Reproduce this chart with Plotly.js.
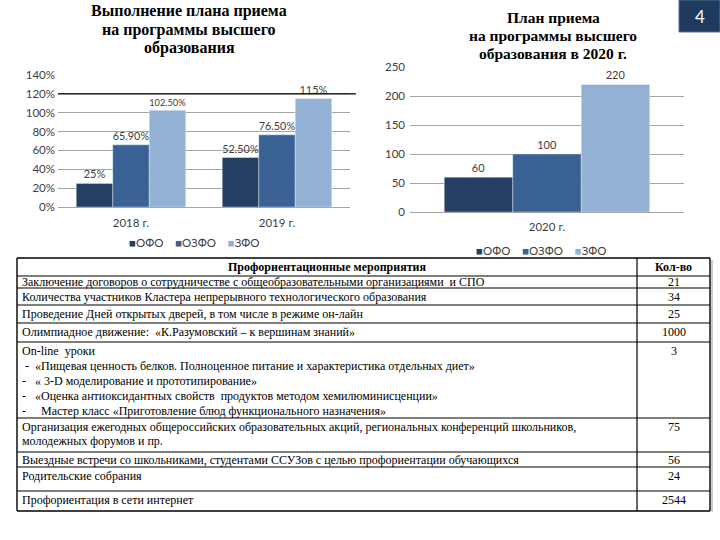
<!DOCTYPE html>
<html><head><meta charset="utf-8">
<script src="https://cdn.plot.ly/plotly-3.0.1.min.js"></script>
<style>html,body{margin:0;padding:0;background:#fff;}#c{width:720px;height:540px;}</style>
</head><body><div id="c"></div>
<script>
// ---------- data ----------
var series = ['ОФО', 'ОЗФО', 'ЗФО'];

var years1 = ['2018 г.', '2019 г.'];
var pctOFO  = [0.25, 0.525];
var pctOZFO = [0.659, 0.765];
var pctZFO  = [1.025, 1.15];
var pctLabelsOFO  = ['25%', '52.50%'];
var pctLabelsOZFO = ['65.90%', '76.50%'];
var pctLabelsZFO  = ['102.50%', '115%'];
var pctTicks = [0, 0.2, 0.4, 0.6, 0.8, 1.0, 1.2, 1.4];
var pctTickText = ['0%', '20%', '40%', '60%', '80%', '100%', '120%', '140%'];

var years2 = ['2020 г.'];
var planOFO = [60];
var planOZFO = [100];
var planZFO = [220];

var title1Lines = ['Выполнение плана приема', 'на программы высшего', 'образования'];
var title2Lines = ['План приема', 'на программы высшего', 'образования в 2020 г.'];

var tableHeader = ['Профориентационные мероприятия', 'Кол-во'];
var activities = [
  'Заключение договоров о сотрудничестве с общеобразовательными организациями\u00a0\u00a0и СПО',
  'Количества участников Кластера непрерывного технологического образования',
  'Проведение Дней открытых дверей, в том числе в режиме он-лайн',
  'Олимпиадное движение:\u00a0\u00a0«К.Разумовский – к вершинам знаний»',
  'On-line\u00a0\u00a0уроки<br>\u00a0-\u00a0\u00a0«Пищевая ценность белков. Полноценное питание и характеристика отдельных диет»<br>-\u00a0\u00a0\u00a0« 3-D моделирование и прототипирование»<br>-\u00a0\u00a0\u00a0«Оценка антиоксидантных свойств\u00a0\u00a0продуктов методом хемилюминисценции»<br>-\u00a0\u00a0\u00a0\u00a0\u00a0Мастер класс «Приготовление блюд функционального назначения»',
  'Организация ежегодных общероссийских образовательных акций, региональных конференций школьников,<br>молодежных форумов и пр.',
  'Выездные встречи со школьниками, студентами ССУЗов с целью профориентации обучающихся',
  'Родительские собрания',
  'Профориентация в сети интернет'
];
var counts = ['21', '34', '25', '1000', '3', '75', '56', '24', '2544'];

// ---------- styles / layout config ----------
var colors = ['#243f62', '#3a6193', '#93b1d5'];
var W = 720, H = 540;
function px(x) { return x / W; }
function py(y) { return 1 - y / H; }

var tickFont = { family: 'Lato, Liberation Sans, sans-serif', size: 11.5, color: '#404040' };
var labelFont = { family: 'Lato, Liberation Sans, sans-serif', size: 11, color: '#404040' };
var legendFont = { family: 'Lato, Liberation Sans, sans-serif', size: 11.5, color: '#404040' };
var title1Font = { family: 'Liberation Serif, serif', size: 16, color: '#000' };
var title2Font = { family: 'Liberation Serif, serif', size: 15.5, color: '#000' };
var cellFont = { family: 'Liberation Serif, serif', size: 12, color: '#000' };

// table geometry (pixels)
var tblLeft = 17, tblRight = 710, tblSplit = 637;
var rowEdges = [258, 276, 288, 305, 323, 342, 418, 452, 467, 491, 511];
var lineStep = 15;

var traces = [];
function addBars(xs, ys, labels, i, xa, ya) {
  traces.push({
    type: 'bar', x: xs, y: ys, name: series[i], showlegend: false,
    text: labels, textposition: 'outside', cliponaxis: false,
    textfont: labelFont,
    marker: { color: colors[i], line: { color: 'rgba(255,255,255,0.35)', width: 1 } },
    xaxis: xa, yaxis: ya, hoverinfo: 'none'
  });
}
addBars(years1, pctOFO, pctLabelsOFO, 0, 'x', 'y');
addBars(years1, pctOZFO, pctLabelsOZFO, 1, 'x', 'y');
addBars(years1, pctZFO, pctLabelsZFO, 2, 'x', 'y');
addBars(years2, planOFO, planOFO.map(String), 0, 'x2', 'y2');
addBars(years2, planOZFO, planOZFO.map(String), 1, 'x2', 'y2');
addBars(years2, planZFO, planZFO.map(String), 2, 'x2', 'y2');

var annotations = [];
var shapes = [];

function legendText() {
  return series.map(function (s, i) {
    return '<span style="color:' + colors[i] + '">■</span>' + s;
  }).join('\u00a0\u00a0\u00a0\u00a0');
}
annotations.push({ xref: 'paper', yref: 'paper', x: px(194), y: py(242), xanchor: 'center', yanchor: 'middle',
  text: legendText(), showarrow: false, font: legendFont, borderpad: 0 });
annotations.push({ xref: 'paper', yref: 'paper', x: px(541), y: py(250), xanchor: 'center', yanchor: 'middle',
  text: legendText(), showarrow: false, font: legendFont, borderpad: 0 });

function titleLines(lines, cx, y0, step, font) {
  lines.forEach(function (t, i) {
    annotations.push({ xref: 'paper', yref: 'paper', x: px(cx), y: py(y0 + i * step), xanchor: 'center', yanchor: 'middle',
      text: '<b>' + t + '</b>', showarrow: false, font: font, borderpad: 0 });
  });
}
titleLines(title1Lines, 189, 11.5, 18.5, title1Font);
titleLines(title2Lines, 553, 17.5, 18, title2Font);

annotations.push({ xref: 'paper', yref: 'paper', x: px(700), y: py(16), xanchor: 'center', yanchor: 'middle',
  text: '4', showarrow: false, font: { family: 'Lato, sans-serif', size: 17, color: '#fff' } });

shapes.push({ type: 'rect', xref: 'paper', yref: 'paper', x0: px(679), x1: px(720), y0: py(32), y1: py(0),
  fillcolor: '#1f3a5f', line: { color: '#5a7394', width: 1 } });
shapes.push({ type: 'line', xref: 'paper', yref: 'y', x0: px(58), x1: px(356), y0: 1.2, y1: 1.2,
  line: { color: '#000', width: 1.3 } });

// ---------- table ----------
function hline(y, w) {
  shapes.push({ type: 'line', xref: 'paper', yref: 'paper', x0: px(tblLeft), x1: px(tblRight), y0: py(y), y1: py(y),
    line: { color: '#000', width: w } });
}
function vline(x, w) {
  shapes.push({ type: 'line', xref: 'paper', yref: 'paper', x0: px(x), x1: px(x),
    y0: py(rowEdges[0]), y1: py(rowEdges[rowEdges.length - 1]), line: { color: '#000', width: w } });
}
rowEdges.forEach(function (y, k) { hline(y, (k === 0 || k === rowEdges.length - 1) ? 1.4 : 1.2); });
vline(tblLeft, 1.4); vline(tblSplit, 1.2); vline(tblRight, 1.4);
shapes.push({ type: 'line', xref: 'paper', yref: 'paper', x0: px(tblRight + 2), x1: px(tblRight + 2),
  y0: py(rowEdges[0] + 2), y1: py(rowEdges[rowEdges.length - 1] + 1), line: { color: '#bbb', width: 1.5 } });

function cellText(txt, rowIdx, col, bold) {
  var top = rowEdges[rowIdx], bot = rowEdges[rowIdx + 1];
  var first = top + Math.min((bot - top) / 2, 8.5);
  txt.split('<br>').forEach(function (line, i) {
    annotations.push({
      xref: 'paper', yref: 'paper',
      x: col === 0 ? px(tblLeft + 5) : px((tblSplit + tblRight) / 2),
      y: py(first + i * lineStep),
      xanchor: col === 0 ? 'left' : 'center', yanchor: 'middle',
      text: bold ? '<b>' + line + '</b>' : line,
      showarrow: false, font: cellFont, borderpad: 0, borderwidth: 0
    });
  });
}
annotations.push({ xref: 'paper', yref: 'paper', x: px((tblLeft + tblSplit) / 2), y: py((rowEdges[0] + rowEdges[1]) / 2),
  xanchor: 'center', yanchor: 'middle', text: '<b>' + tableHeader[0] + '</b>', showarrow: false, font: cellFont, borderpad: 0 });
annotations.push({ xref: 'paper', yref: 'paper', x: px((tblSplit + tblRight) / 2), y: py((rowEdges[0] + rowEdges[1]) / 2),
  xanchor: 'center', yanchor: 'middle', text: '<b>' + tableHeader[1] + '</b>', showarrow: false, font: cellFont, borderpad: 0 });
activities.forEach(function (a, r) {
  cellText(a, r + 1, 0, false);
  cellText(counts[r], r + 1, 1, false);
});

var layout = {
  width: W, height: H,
  margin: { l: 0, r: 0, t: 0, b: 0 },
  paper_bgcolor: '#fff', plot_bgcolor: '#fff',
  showlegend: false,
  barmode: 'group', bargap: 0.25, bargroupgap: 0,
  xaxis: {
    domain: [px(58), px(350)], anchor: 'y', tickfont: tickFont, ticklabelstandoff: 5,
    showline: true, linecolor: '#a6a6a6', ticks: ''
  },
  yaxis: {
    domain: [py(207), py(75)], anchor: 'x', range: [0, 1.4],
    tickvals: pctTicks, ticktext: pctTickText, tickfont: tickFont, ticklabelstandoff: 2,
    showgrid: true, gridcolor: '#a6a6a6', zeroline: false, showline: false, ticks: ''
  },
  xaxis2: {
    domain: [px(410), px(684)], anchor: 'y2', tickfont: tickFont, ticklabelstandoff: 4,
    showline: true, linecolor: '#a6a6a6', ticks: ''
  },
  yaxis2: {
    domain: [py(212), py(67)], anchor: 'x2', range: [0, 250], dtick: 50,
    tickfont: tickFont, ticklabelstandoff: 4,
    showgrid: true, gridcolor: '#a6a6a6', zeroline: false, ticks: ''
  },
  annotations: annotations,
  shapes: shapes
};

Plotly.newPlot('c', traces, layout, { staticPlot: true, displayModeBar: false });
</script></body></html>
